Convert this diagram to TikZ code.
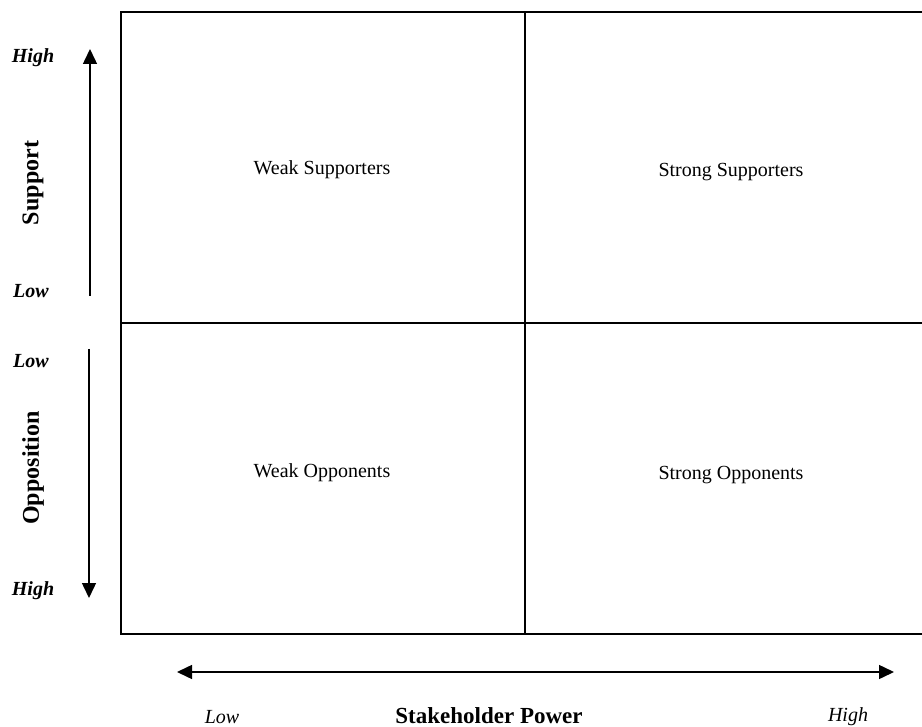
\documentclass[tikz,border=0pt]{standalone}
\usepackage{fontspec}
\setmainfont{Liberation Serif}
\usetikzlibrary{arrows.meta,positioning}
\tikzstyle{quadlabel} = [font=\fontsize{20}{24}\selectfont]
\tikzstyle{axislabel} = [font=\fontsize{24}{28}\selectfont\bfseries, rotate=90]
\tikzstyle{levellabel} = [font=\fontsize{20}{24}\selectfont\bfseries\itshape]
\tikzstyle{powerlabel} = [font=\fontsize{20}{24}\selectfont\itshape]
\tikzstyle{grid} = [line width=2pt]
\tikzstyle{axis} = [line width=1.5pt]

\begin{document}
\begin{tikzpicture}[x=1pt, y=-1pt, >={Triangle[length=15pt,width=14pt]}]
    \useasboundingbox (0,0) rectangle (922,727);
    % Raster
    \coordinate (tl) at (121,12);
    \coordinate (bl) at (121,634);
    \coordinate (tr) at (930,12);
    \coordinate (br) at (930,634);
    \coordinate (ml) at (121,323);
    \coordinate (mr) at (930,323);
    \coordinate (mt) at (525,12);
    \coordinate (mb) at (525,634);
    \draw[grid] (tr) -- (tl) -- (bl) -- (br);
    \draw[grid] (ml) -- (mr);
    \draw[grid] (mt) -- (mb);
    
    % Quadranten
    \node[quadlabel] (weaksup) at (322,170) {Weak Supporters};
    \node[quadlabel] (strongsup) at (731,172) {Strong Supporters};
    \node[quadlabel] (weakopp) at (322,473) {Weak Opponents};
    \node[quadlabel] (strongopp) at (731,475) {Strong Opponents};
    
    % Achse Support / Opposition
    \node[levellabel] (suphigh) at (33,58) {High};
    \node[levellabel] (suplow) at (31,291) {Low};
    \node[levellabel] (opplow) at (31,361) {Low};
    \node[levellabel] (opphigh) at (33,591) {High};
    \node[axislabel] (support) at (33,183) {Support};
    \node[axislabel] (opposition) at (33,468) {Opposition};
    \coordinate (supbase) at (90,296);
    \coordinate (suptip) at (90,49);
    \coordinate (oppbase) at (89,349);
    \coordinate (opptip) at (89,598);
    \draw[axis,->] (supbase) -- (suptip);
    \draw[axis,->] (oppbase) -- (opptip);
    
    % Achse Stakeholder Power
    \coordinate (powlow) at (177,672);
    \coordinate (powhigh) at (894,672);
    \draw[axis,<->] (powlow) -- (powhigh);
    \node[powerlabel] (powlowtext) at (222,717) {Low};
    \node[font=\fontsize{23}{28}\selectfont\bfseries] (power) at (489,716) {Stakeholder Power};
    \node[powerlabel] (powhightext) at (848,717) {High};
\end{tikzpicture}
\end{document}
